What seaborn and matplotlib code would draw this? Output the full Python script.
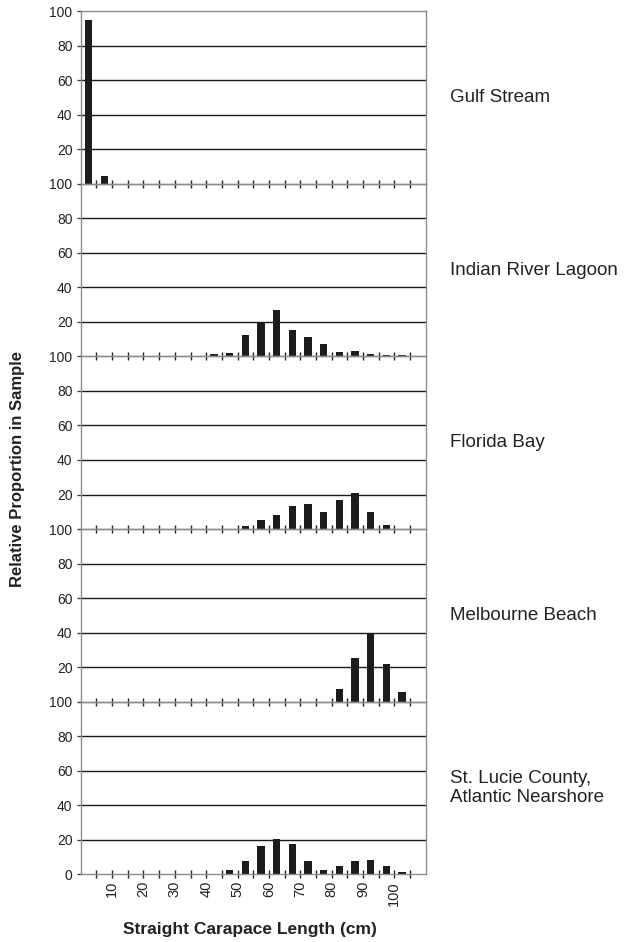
import matplotlib
matplotlib.use("Agg")
import matplotlib.pyplot as plt
import seaborn as sns

# 5-cm size classes (straight carapace length, cm)
bin_centers = [2.5, 7.5, 12.5, 17.5, 22.5, 27.5, 32.5, 37.5, 42.5, 47.5, 52.5,
               57.5, 62.5, 67.5, 72.5, 77.5, 82.5, 87.5, 92.5, 97.5, 102.5, 107.5]

gulf_stream = [95.2, 4.8, 0, 0, 0, 0, 0, 0, 0, 0, 0,
               0, 0, 0, 0, 0, 0, 0, 0, 0, 0, 0]
indian_river_lagoon = [0, 0, 0, 0, 0, 0, 0, 0, 1.3, 1.9, 12.4,
                       20.0, 27.0, 15.1, 11.2, 7.2, 2.5, 3.1, 1.7, 1.1, 1.1, 0]
florida_bay = [0, 0, 0, 0, 0, 0, 0, 0, 0, 0.3, 1.9,
               5.4, 8.3, 13.2, 14.3, 9.6, 17.1, 21.0, 9.6, 2.2, 0, 0]
melbourne_beach = [0, 0, 0, 0, 0, 0, 0, 0, 0, 0, 0,
                   0, 0, 0, 0, 0, 7.3, 25.5, 40.0, 21.6, 5.6, 0]
st_lucie = [0, 0, 0, 0, 0, 0, 0, 0, 0.3, 2.5, 7.7,
            16.5, 20.2, 17.7, 7.7, 2.5, 5.0, 7.7, 8.5, 5.0, 1.1, 0.3]

panel_names = ["Gulf Stream", "Indian River Lagoon", "Florida Bay",
               "Melbourne Beach", "St. Lucie County,\nAtlantic Nearshore"]
panel_values = [gulf_stream, indian_river_lagoon, florida_bay,
                melbourne_beach, st_lucie]

x_ticks = [5, 10, 15, 20, 25, 30, 35, 40, 45, 50, 55, 60, 65, 70, 75, 80, 85, 90, 95, 100, 105]
x_labeled = [10, 20, 30, 40, 50, 60, 70, 80, 90, 100]
grid_levels = [20, 40, 60, 80]

sns.set_theme(style="white")
plt.rcParams["font.family"] = ["Liberation Sans", "DejaVu Sans"]
text_color = "#222222"

fig = plt.figure(figsize=(6.26, 9.42), dpi=100)
axes = fig.subplots(5, 1, sharex=True)
fig.subplots_adjust(left=0.129, right=0.680, top=0.988, bottom=0.072, hspace=0)

for i, (ax, name, vals) in enumerate(zip(axes, panel_names, panel_values)):
    # transparent panels so the crossing ticks show on both sides of each join
    ax.set_facecolor("none")
    for g in grid_levels:
        ax.axhline(g, color="#1a1a1a", lw=1.0, zorder=1)
    sns.barplot(x=bin_centers, y=vals, native_scale=True, width=0.47,
                color="#1c1c1c", saturation=1, linewidth=0, ax=ax, zorder=2)
    ax.set_xlim(0, 110)
    ax.set_ylim(0, 100)
    last = i == len(axes) - 1
    ax.set_yticks([0, 20, 40, 60, 80, 100] if last else [20, 40, 60, 80, 100])
    ax.set_xticks(x_ticks)
    if last:
        ax.set_xticklabels([str(t) if t in x_labeled else "" for t in x_ticks],
                           rotation=90)
    ax.tick_params(axis="x", direction="inout", length=6, width=1.0,
                   color="#222222", bottom=True, labelsize=10.5,
                   labelcolor=text_color, pad=2)
    ax.tick_params(axis="y", direction="out", length=3, width=0.9,
                   color="#333333", left=True, labelsize=10,
                   labelcolor=text_color, pad=3)
    for sp in ax.spines.values():
        sp.set_color("#8c8c8c")
        sp.set_linewidth(1.0)
    ax.set_xlabel("")
    ax.set_ylabel("")
    ax.text(1.07, 0.5, name, transform=ax.transAxes, ha="left", va="center",
            fontsize=13.5, color=text_color, linespacing=1.2)

fig.text(0.028, 0.502, "Relative Proportion in Sample", rotation=90,
         ha="center", va="center", fontsize=12, fontweight="bold", color=text_color)
fig.text(0.40, 0.013, "Straight Carapace Length (cm)", ha="center",
         va="center", fontsize=12.5, fontweight="bold", color=text_color)

fig.savefig("out.png", dpi=100, facecolor="white")
